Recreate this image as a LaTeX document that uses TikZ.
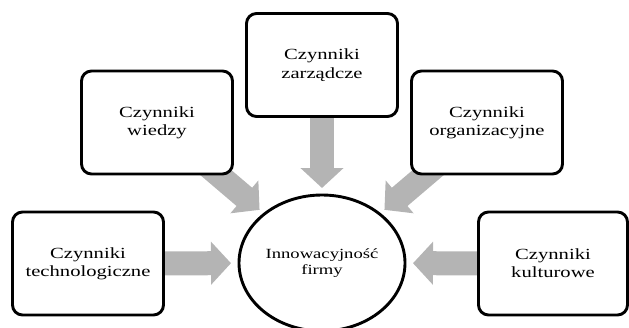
\documentclass[tikz,border=0pt]{standalone}
\usepackage{fontspec}
\setmainfont[FakeStretch=1.33]{Liberation Serif}
\usetikzlibrary{shapes}
\usetikzlibrary{shapes.geometric}
\usetikzlibrary{arrows.meta}
\usetikzlibrary{backgrounds}
\definecolor{arrowgray}{RGB}{180,180,180}

\begin{document}
\begin{tikzpicture}[x=1pt,y=-1pt,
    factor/.style={draw,rectangle,rounded corners=10pt,line width=2.9pt,fill=white,
      minimum width=151pt,minimum height=103pt,inner sep=0pt,align=center,
      font=\fontsize{15.5}{18.3}\selectfont},
    bigarrow/.style={arrowgray,line width=24pt,-{Triangle[length=20pt,width=42pt]}}]
      \useasboundingbox (0,0) rectangle (629,327);
      \clip (0,0) rectangle (629,327);

      \node[factor] (zarz) at (322,65) {Czynniki\\zarządcze};
      \node[factor] (wiedzy) at (157,122.5) {Czynniki\\wiedzy};
      \node[factor] (org) at (487,122.5) {Czynniki\\organizacyjne};
      \node[factor] (tech) at (88,263.5) {Czynniki\\technologiczne};
      \node[factor,minimum width=149pt] (kult) at (553,263.5) {Czynniki\\kulturowe};
      \node[draw,ellipse,line width=2.9pt,fill=white,minimum width=166pt,minimum height=136pt,
        inner sep=0pt,align=center,font=\fontsize{14}{16.7}\selectfont] (inn) at (322,263)
        {Innowacyjność\\firmy};

      % grey arrows behind the boxes
      \begin{scope}[on background layer]
        \draw[bigarrow,shorten >=75pt] (zarz.center) -- (inn.center);
        \draw[bigarrow,shorten >=82pt] (wiedzy.center) -- (inn.center);
        \draw[bigarrow,shorten >=82pt] (org.center) -- (inn.center);
        \draw[bigarrow,shorten >=91pt] (tech.center) -- (inn.center);
        \draw[bigarrow,shorten >=91pt] (kult.center) -- (inn.center);
      \end{scope}
\end{tikzpicture}
\end{document}
